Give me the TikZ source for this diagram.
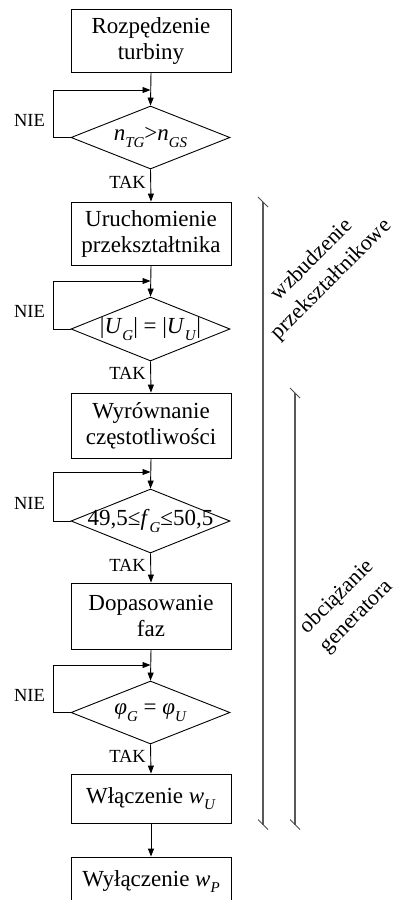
\documentclass[tikz,border=0pt]{standalone}
\usepackage{fontspec}
\setmainfont{Liberation Serif}
\usetikzlibrary{shapes.geometric,arrows.meta}
\newcommand\ssub[1]{\raisebox{-0.28em}{\fontsize{15}{15}\selectfont\textit{#1}}}
\begin{document}
\begin{tikzpicture}[x=1pt,y=-1pt,
  box/.style={draw,line width=0.9pt,minimum width=160pt,inner sep=0pt,align=center,font=\fontsize{23}{26}\selectfont},
  dia/.style={draw,line width=0.9pt,diamond,minimum width=159pt,inner sep=0pt},
  dtext/.style={font=\fontsize{23}{26}\selectfont,inner sep=0pt},
  lbl/.style={font=\fontsize{18.5}{20}\selectfont,inner sep=0pt},
  arr/.style={line width=0.9pt,-{Triangle[length=8pt,width=6pt]}},
  side/.style={draw=black!65,line width=1.2pt},
  tick/.style={draw=black!70,line width=1pt},
  rot/.style={rotate=45,align=center,font=\fontsize{22}{27.5}\selectfont,inner sep=0pt}]
\useasboundingbox (0,0) rectangle (396,900);

% boxes
\node[box,minimum height=63pt] (b1) at (151,40.5) {Rozpędzenie\\turbiny};
\node[box,minimum height=63pt] (b2) at (151,233.5) {Uruchomienie\\przekształtnika};
\node[box,minimum height=65pt] (b3) at (151,425.5) {Wyrównanie\\częstotliwości};
\node[box,minimum height=66pt] (b4) at (151,616) {Dopasowanie\\faz};
\node[box,minimum height=49pt] (b5) at (151,798.5) {Włączenie \textit{w}\ssub{U}};
\node[box,minimum height=49pt] (b6) at (151,881.5) {Wyłączenie \textit{w}\ssub{P}};

% diamonds
\node[dia,minimum height=63pt] (d1) at (150.5,137.5) {};
\node[dtext] (t1) at (d1) {\textit{n}\ssub{TG}>\textit{n}\ssub{GS}};
\node[dia,minimum height=64pt] (d2) at (150.5,329) {};
\node[dtext] (t2) at (d2) {|\textit{U}\ssub{G}| = |\textit{U}\ssub{U}|};
\node[dia,minimum height=64pt] (d3) at (150.5,521) {};
\node[dtext] (t3) at (d3) {49,5≤\textit{f}\ssub{G}≤50,5};
\node[dia,minimum height=63pt] (d4) at (150.5,712.5) {};
\node[dtext] (t4) at (d4) {\textit{φ}\ssub{G} = \textit{φ}\ssub{U}};

% loop coordinates
\coordinate (l1) at (150.5,90);
\coordinate (l2) at (150.5,281);
\coordinate (l3) at (150.5,472);
\coordinate (l4) at (150.5,665);

% vertical arrows
\draw[arr] (b1.south) -- (d1.north);
\draw[arr] (d1.south) -- (b2.north);
\draw[arr] (b2.south) -- (d2.north);
\draw[arr] (d2.south) -- (b3.north);
\draw[arr] (b3.south) -- (d3.north);
\draw[arr] (d3.south) -- (b4.north);
\draw[arr] (b4.south) -- (d4.north);
\draw[arr] (d4.south) -- (b5.north);
\draw[arr] (b5.south) -- (b6.north);

% loops
\draw[arr] (d1.west) -- ++(-17,0) |- (l1);
\draw[arr] (d2.west) -- ++(-17,0) |- (l2);
\draw[arr] (d3.west) -- ++(-17,0) |- (l3);
\draw[arr] (d4.west) -- ++(-17,0) |- (l4);

% labels
\node[lbl] (n1) at (29.5,120) {NIE};
\node[lbl] (n2) at (29.5,311) {NIE};
\node[lbl] (n3) at (29.5,503) {NIE};
\node[lbl] (n4) at (29.5,695) {NIE};
\node[lbl,anchor=east] (k1) at (146,182) {TAK};
\node[lbl,anchor=east] (k2) at (146,373) {TAK};
\node[lbl,anchor=east] (k3) at (146,565) {TAK};
\node[lbl,anchor=east] (k4) at (146,756) {TAK};

% side brackets
\coordinate (s1a) at (263,202);
\coordinate (s1b) at (263,824.5);
\coordinate (s2a) at (295,393);
\coordinate (s2b) at (295,824.5);
\draw[side] (s1a) -- (s1b);
\draw[side] (s2a) -- (s2b);
\foreach \c in {s1a,s1b,s2a,s2b}{
  \draw[tick] ([shift={(-5,-5)}]\c) -- ([shift={(5,5)}]\c);
}
\node[rot] (r1) at (322,270) {wzbudzenie\\przekształtnikowe};
\node[rot] (r2) at (347,607) {obciążanie\\generatora};
\end{tikzpicture}
\end{document}
